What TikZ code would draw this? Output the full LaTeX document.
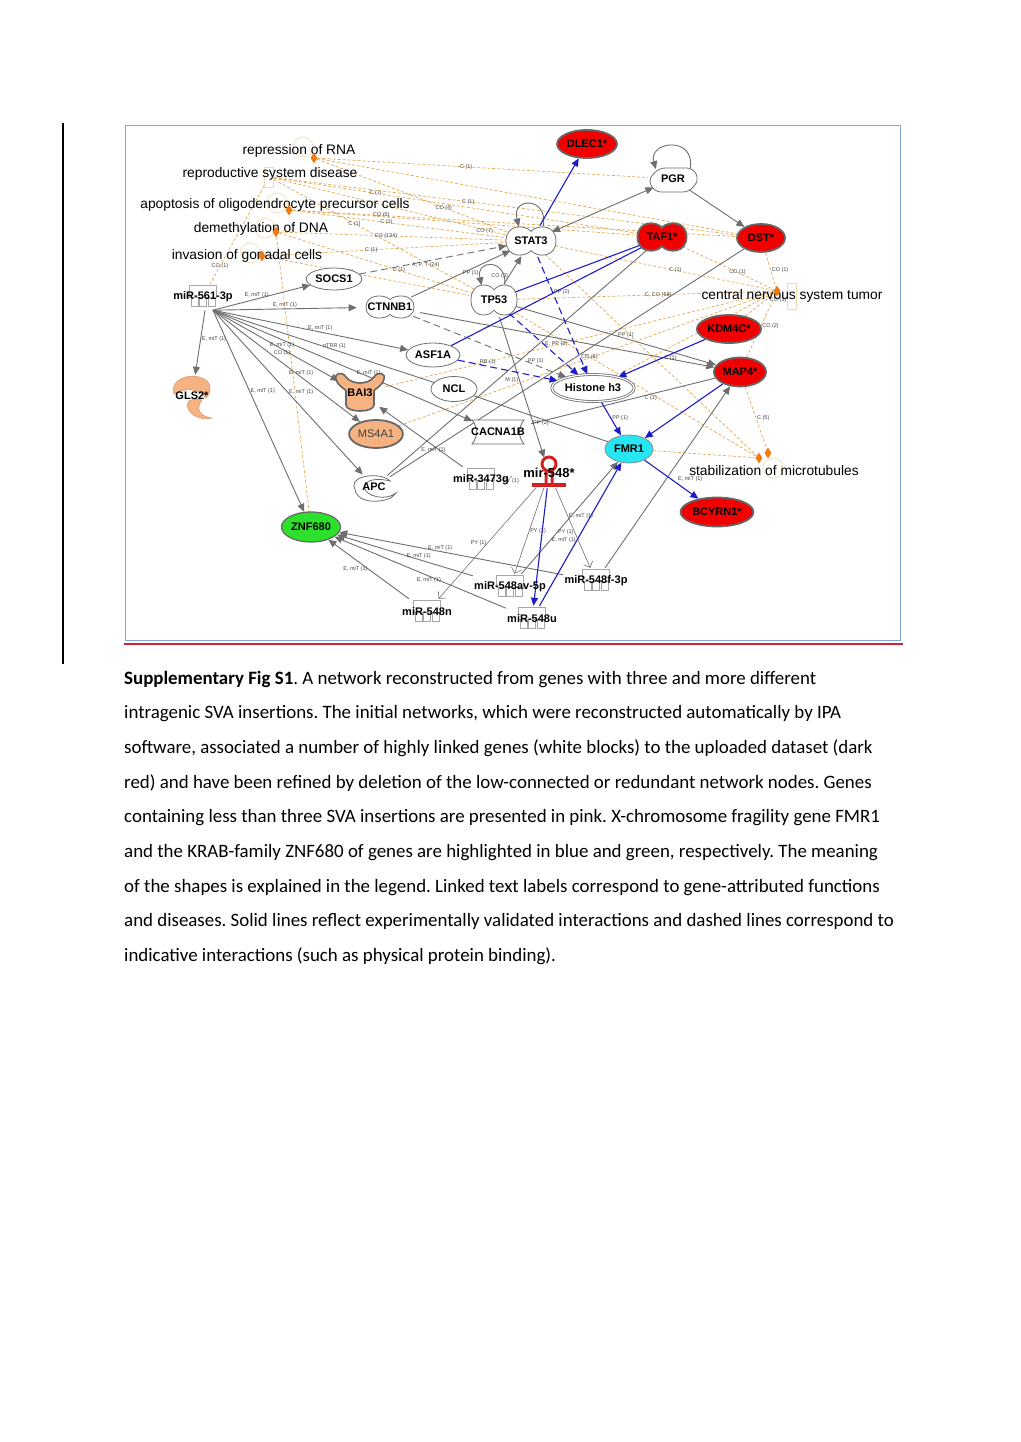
\documentclass[tikz,border=0pt]{standalone}
\usepackage{fontspec}
\setmainfont{Liberation Sans}
\newfontfamily\capfont{Carlito}
\usepackage{tikz}
\usetikzlibrary{arrows.meta,positioning,shapes.geometric,calc}
\pgfdeclarelayer{edges}
\pgfdeclarelayer{shapes}
\pgfsetlayers{edges,shapes,main}
\definecolor{framebl}{HTML}{7EA6DC}
\definecolor{capred}{HTML}{D2203C}
\definecolor{edgegr}{HTML}{6E6E6E}
\definecolor{bordgr}{HTML}{666666}
\definecolor{relbl}{HTML}{1C1CCB}
\definecolor{fnor}{HTML}{E3A84E}
\definecolor{mkor}{HTML}{EE7A10}
\definecolor{dsred}{HTML}{F20000}
\definecolor{pinkor}{HTML}{F7B282}
\definecolor{fmrcy}{HTML}{27E6F2}
\definecolor{znfgr}{HTML}{2CE02C}
\definecolor{hpred}{HTML}{D42020}
\tikzset{
  gene/.style={ellipse, draw=edgegr, line width=0.8pt, fill=white, inner sep=1pt,
    font=\fontsize{11}{12}\selectfont\bfseries, minimum width=44pt, minimum height=24pt},
  dsgene/.style={gene, fill=dsred, draw=bordgr, line width=1.8pt},
  pkgene/.style={gene, fill=pinkor, draw=bordgr, line width=1.8pt},
  hidgene/.style={gene, draw=none, fill=none},
  mirna/.style={font=\fontsize{11}{12}\selectfont\bfseries, inner sep=1pt,
    minimum width=28pt, minimum height=26pt},
  fnlabel/.style={font=\fontsize{13.8}{15}\selectfont, inner sep=1pt},
  fnmark/.style={diamond, fill=mkor, inner sep=0pt, minimum width=7pt, minimum height=11pt},
  fnghost/.style={circle, draw=fnor!35, line width=0.8pt, minimum size=20pt, inner sep=0pt},
  fnbox/.style={rectangle, draw=fnor!45, line width=0.8pt, minimum width=9pt,
    minimum height=20pt, inner sep=0pt},
  elab/.style={font=\fontsize{5.5}{6}\selectfont, text=black!75, inner sep=0.8pt},
  rel/.style={draw=edgegr, line width=0.9pt, -{Triangle[length=8pt,width=7pt]}},
  relboth/.style={rel, {Triangle[length=8pt,width=7pt]}-{Triangle[length=8pt,width=7pt]}},
  lnk/.style={draw=edgegr, line width=0.9pt},
  reld/.style={rel, dash pattern=on 7pt off 4pt},
  thinrel/.style={draw=edgegr, line width=0.6pt, -{Straight Barb[length=5pt]}},
  brel/.style={draw=relbl, line width=1.1pt, -{Triangle[length=8pt,width=7pt]}},
  blnk/.style={draw=relbl, line width=1.1pt},
  breld/.style={brel, dash pattern=on 7pt off 4pt},
  fnl/.style={draw=fnor, line width=0.7pt, dash pattern=on 3pt off 2pt},
  wshape/.style={draw=edgegr, line width=0.8pt, fill=white},
  rshape/.style={draw=bordgr, line width=1.8pt, fill=dsred},
  pshape/.style={draw=bordgr, line width=1.6pt, fill=pinkor},
  mirshape/.style={draw=black!35, line width=0.6pt, fill=white},
  hairpin/.style={draw=hpred, line width=3pt},
  captxt/.style={font=\capfont\fontsize{18.9}{22}\selectfont, inner sep=0pt, anchor=base west},
}
% peanut outline round a hidden node: node, half width, half height, style
\newcommand{\peanutshape}[4]{%
  \path[#4, shift={(#1.center)}] (0,{-0.6*#3})
    .. controls ({-0.25*#2},{-1.05*#3}) and ({-#2},{-1.05*#3}) .. ({-#2},0)
    .. controls ({-#2},{1.05*#3}) and ({-0.25*#2},{1.05*#3}) .. (0,{0.6*#3})
    .. controls ({0.25*#2},{1.05*#3}) and ({#2},{1.05*#3}) .. ({#2},0)
    .. controls ({#2},{-1.05*#3}) and ({0.25*#2},{-1.05*#3}) .. (0,{-0.6*#3}) -- cycle;}
% microRNA box with three feet
\newcommand{\mirbox}[1]{%
  \path[mirshape, shift={(#1.center)}] (-13.5,-12) rectangle (13.5,0)
    (-12,0) rectangle (-5,9) (-3.5,0) rectangle (3.5,9) (5,0) rectangle (12,9);}
\frenchspacing

\begin{document}
\begin{tikzpicture}[x=1pt, y=-1pt]
\useasboundingbox (0,0) rectangle (1020,1442);

% frame and rules
\node[draw=framebl, line width=0.9pt, minimum width=775pt, minimum height=515pt,
  inner sep=0pt, anchor=north west] (frame) at (125,125) {};
\draw[capred, line width=1.4pt] (124,644) -- (903,644);
\draw[black, line width=1.2pt] (63,123) -- (63,664);

% functions
\node[fnghost] (ggrna) at (303,147) {};
\node[fnbox] (mkrep) at (269,177) {};
\node[fnghost] (ggapo) at (277,203) {};
\node[fnghost] (ggdna) at (265,228) {};
\node[fnghost] (gggon) at (250,253) {};
\node[fnbox, minimum height=26pt] (ggcns) at (792,296) {};
\node[fnghost] (ggmt) at (773,468) {};
\node[fnlabel] (fnrna) at (299,151) {repression of RNA};
\node[fnlabel] (fnrep) at (270,174) {reproductive system disease};
\node[fnlabel] (fnapo) at (275,205) {apoptosis of oligodendrocyte precursor cells};
\node[fnlabel] (fndna) at (261,229) {demethylation of DNA};
\node[fnlabel] (fngon) at (247,256) {invasion of gonadal cells};
\node[fnlabel] (fncns) at (792,296) {central nervous system tumor};
\node[fnlabel] (fnmt) at (774,471) {stabilization of microtubules};
\node[fnmark] (mkrna) at (314,158) {};
\node[fnmark] (mkapo) at (289,210) {};
\node[fnmark] (mkdna) at (276,232) {};
\node[fnmark] (mkgon) at (262,256) {};
\node[fnmark] (mkcns) at (777,291) {};
\node[fnmark] (mkmt) at (759,458) {};
\node[fnmark] (mkmtb) at (768,453) {};

% genes
\node[dsgene, minimum width=53pt, minimum height=28pt] (dlec1) at (587,144) {DLEC1*};
\node[hidgene, minimum width=50pt, minimum height=26pt] (pgr) at (673,179) {PGR};
\node[hidgene, minimum width=50pt, minimum height=32pt] (stat3) at (531,241) {STAT3};
\node[hidgene, minimum width=50pt, minimum height=32pt] (taf1) at (662,237) {TAF1*};
\node[dsgene, minimum width=48pt, minimum height=28pt] (dst) at (761,238) {DST*};
\node[gene, minimum width=44pt, minimum height=22pt] (socs1) at (334,279) {SOCS1};
\node[mirna] (mir561) at (203,297) {miR-561-3p};
\node[hidgene, minimum width=48pt, minimum height=25pt] (ctnnb1) at (390,307) {CTNNB1};
\node[hidgene, minimum width=46pt, minimum height=34pt] (tp53) at (494,300) {TP53};
\node[dsgene, minimum width=48pt, minimum height=28pt] (kdm4c) at (729,329) {KDM4C*};
\node[gene] (asf1a) at (433,355) {ASF1A};
\node[dsgene, minimum width=49pt, minimum height=29pt] (map4) at (740,372) {MAP4*};
\node[gene, minimum width=46pt, minimum height=25pt] (ncl) at (454,389) {NCL};
\node[gene, double, double distance=1.2pt, minimum width=58pt, minimum height=27pt] (h3) at (593,388) {Histone h3};
\node[hidgene, minimum width=40pt, minimum height=42pt] (gls2) at (192,396) {GLS2*};
\node[hidgene, minimum width=54pt, minimum height=38pt] (bai3) at (360,393) {BAI3};
\node[pkgene, minimum width=43pt, minimum height=28pt, font=\fontsize{11}{12}\selectfont,
  text=black!75] (ms4a1) at (376,434) {MS4A1};
\node[hidgene, minimum width=54pt, minimum height=28pt] (cacna1b) at (498,432) {CACNA1B};
\node[gene, fill=fmrcy, draw=edgegr!80, minimum width=48pt, minimum height=28pt] (fmr1) at (629,449) {FMR1};
\node[hidgene, font=\fontsize{13}{15}\selectfont\bfseries, minimum width=40pt, minimum height=30pt] (mir548) at (549,473) {mir-548*};
\node[mirna] (mir3473) at (481,480) {miR-3473g};
\node[hidgene, minimum width=44pt, minimum height=28pt] (apc) at (374,487) {APC};
\node[dsgene, minimum width=60pt, minimum height=29pt] (bcyrn1) at (717,512) {BCYRN1*};
\node[gene, fill=znfgr, draw=bordgr, line width=1.2pt, minimum width=53pt, minimum height=30pt] (znf680) at (311,527) {ZNF680};
\node[mirna] (mir548av) at (510,587) {miR-548av-5p};
\node[mirna] (mir548f) at (596,581) {miR-548f-3p};
\node[mirna] (mir548n) at (427,612) {miR-548n};
\node[mirna] (mir548u) at (532,619) {miR-548u};

% outlines of the drawn shapes
\begin{pgfonlayer}{shapes}
  \peanutshape{stat3}{25}{16}{wshape}
  \peanutshape{tp53}{23}{17}{wshape}
  \peanutshape{ctnnb1}{24}{12.5}{wshape}
  \peanutshape{taf1}{24.5}{15.5}{rshape}
  \path[wshape, shift={(pgr.center)}, rounded corners=6pt]
    (-14,-11) -- (20,-11) -- (26,1) -- (16,13) -- (-18,13) -- (-25,1) -- cycle;
  \path[pshape, draw=pinkor!85!black, line width=0.5pt, shift={(gls2.center)}]
    (-18,-2) .. controls (-24,-18) and (4,-26) .. (16,-14)
    .. controls (20,-8) and (18,-2) .. (14,2)
    .. controls (8,-6) and (-4,-10) .. (-18,-2) -- cycle
    (-4,6) .. controls (-8,16) and (8,26) .. (20,22)
    .. controls (6,20) and (4,12) .. (10,4)
    .. controls (4,2) and (-2,3) .. (-4,6) -- cycle;
  \path[pshape, shift={(bai3.center)}]
    (-24,-14) .. controls (-26,-20) and (-18,-22) .. (-14,-16)
    .. controls (-8,-8) and (8,-8) .. (14,-16)
    .. controls (18,-22) and (26,-20) .. (24,-14)
    .. controls (22,-6) and (14,-4) .. (14,-2) -- (14,12)
    .. controls (14,20) and (-14,20) .. (-14,12) -- (-14,-2)
    .. controls (-14,-4) and (-22,-6) .. (-24,-14) -- cycle;
  \path[wshape, shift={(cacna1b.center)}]
    (-26,-12) -- (26,-12) .. controls (20,-5) and (20,5) .. (26,12)
    -- (-26,12) .. controls (-20,5) and (-20,-5) .. (-26,-12) -- cycle;
  \path[wshape, shift={(apc.center)}]
    (-20,-1) .. controls (-22,-12) and (8,-15) .. (16,-6)
    .. controls (4,-9) and (-8,-8) .. (-10,0)
    .. controls (-8,10) and (12,14) .. (22,6)
    .. controls (16,16) and (-12,18) .. (-18,6) -- cycle;
  \draw[hairpin, shift={(mir548.center)}] (0,-9) circle (7pt)
    (-3,-3) -- (-3,12) (3,-3) -- (3,12);
  \draw[hairpin, line width=4pt, shift={(mir548.center)}] (-17,12) -- (17,12);
  \mirbox{mir561}
  \mirbox{mir3473}
  \mirbox{mir548av}
  \mirbox{mir548f}
  \mirbox{mir548n}
  \mirbox{mir548u}
\end{pgfonlayer}

\begin{pgfonlayer}{edges}
  % links to functions and diseases
  \draw[fnl] (mkrna) -- node[elab, pos=.45] {C (1)} (pgr);
  \draw[fnl] (mkrna) -- node[elab, pos=.66] {CO (4)} (stat3);
  \draw[fnl] (mkrna) -- (dst);
  \draw[fnl] (mkrep) -- node[elab, pos=.28] {C (7)} (taf1);
  \draw[fnl] (mkrep) -- node[elab, pos=.42] {C (1)} (dst);
  \draw[fnl] (mkrep) -- node[elab, pos=.4] {C (1)} (tp53);
  \draw[fnl] (mkrep) -- (stat3);
  \draw[fnl] (mkrep) -- node[elab, pos=.82] {CO (1)} (mir561);
  \draw[fnl] (mkapo) -- node[elab, pos=.2] {CO (5)} (dst);
  \draw[fnl] (mkapo) -- node[elab, pos=.44] {C (1)} node[elab, pos=.9, above] {CO (7)} (stat3);
  \draw[fnl] (mkapo) -- (taf1);
  \draw[fnl] (mkdna) -- node[elab, pos=.47] {CO (134)} (stat3);
  \draw[fnl] (mkdna) -- node[elab, pos=.62] {C (1)} (tp53);
  \draw[fnl] (mkdna) -- (znf680);
  \draw[fnl] (mkgon) -- node[elab, pos=.44] {C (1)} (stat3);
  \draw[fnl] (mkgon) -- node[elab, pos=.4] {C (1)} (tp53);
  \draw[fnl] (stat3) -- node[elab, pos=.55] {C (1)} (mkcns);
  \draw[fnl] (tp53) -- node[elab, pos=.55] {C, CO (58)} (mkcns);
  \draw[fnl] (taf1) -- node[elab, pos=.6] {CO (1)} (mkcns);
  \draw[fnl] (dst) -- node[elab, pos=.5, right] {CO (1)} (mkcns);
  \draw[fnl] (kdm4c) -- node[elab, pos=.7, right=3pt] {CO (1)} (mkcns);
  \draw[fnl] (map4) -- node[elab, pos=.5, right] {CO (2)} (mkcns);
  \draw[fnl] (bai3) -- (mkcns);
  \draw[fnl] (ms4a1) -- (mkcns);
  \draw[fnl] (h3) -- (mkcns);
  \draw[fnl] (map4) -- node[elab, pos=.5, right] {C (5)} (mkmtb);
  \draw[fnl] (fmr1) -- (mkmt);
  \draw[fnl] (stat3) -- (mkmt);
  \draw[fnl] (tp53) -- (mkmt);
  % miR-561-3p targets
  \draw[rel] ([xshift=10pt]mir561.south) -- node[elab, pos=.45, above] {E, miT (1)} (socs1);
  \draw[rel] ([xshift=10pt]mir561.south) -- node[elab, pos=.5, above] {E, miT (1)} (ctnnb1);
  \draw[rel] ([xshift=10pt]mir561.south) -- node[elab, pos=.55, above] {E, miT (1)} (asf1a);
  \draw[lnk] ([xshift=10pt]mir561.south) -- node[elab, pos=.55, above] {nTRR (1)} (ncl);
  \draw[rel] ([xshift=10pt]mir561.south) -- node[elab, pos=.6, above] {E, miT (1)} (cacna1b);
  \draw[rel] ([xshift=10pt]mir561.south) -- node[elab, pos=.55, above] {E, miT (1)} node[elab, pos=.55, below] {CO (1)} (bai3);
  \draw[rel] ([xshift=10pt]mir561.south) -- node[elab, pos=.6, above] {E, miT (1)} (ms4a1);
  \draw[rel] ([xshift=10pt]mir561.south) -- node[elab, pos=.5, right] {E, miT (1)} (apc);
  \draw[rel] ([xshift=10pt]mir561.south) -- node[elab, pos=.4, right] {E, miT (1)} (znf680);
  \draw[rel] ([xshift=2pt]mir561.south) -- node[elab, pos=.45, right] {E, miT (1)} (gls2);
  % gene to gene
  \draw[reld] (socs1) -- node[elab, pos=.45, below] {A, P, T (24)} (stat3);
  \draw[rel] (ctnnb1) -- node[elab, pos=.6, below] {PP (1)} (stat3);
  \draw[rel] (ctnnb1) -- (map4);
  \draw[reld] (ctnnb1) -- node[elab, pos=.8, above] {PP (1)} (h3);
  \draw[rel] (tp53) -- node[elab, pos=.3, left] {CO (3)} (stat3);
  \draw[rel] (tp53.55) .. controls +(2,-26) and +(-6,-26) .. (tp53.130);
  \draw[rel] (stat3.50) .. controls +(6,-30) and +(-8,-30) .. (stat3.130);
  \draw[rel] (tp53) -- node[elab, pos=.55, above] {PP (1)} (map4);
  \draw[rel] (tp53) -- node[elab, pos=.45, left] {M (1)} (mir548);
  \draw[relboth] (stat3) -- (pgr);
  \draw[rel] (pgr) -- (dst);
  \draw[rel] (pgr.30) .. controls +(6,-34) and +(-8,-28) .. (pgr.150);
  \draw[lnk] (taf1) -- (apc);
  \draw[lnk] (dst) -- (apc);
  \draw[lnk] (cacna1b) -- node[elab, pos=.65, below] {C (1)} (map4);
  \draw[lnk] (ncl) -- node[elab, pos=.5, below] {PP (2)} (fmr1);
  \draw[rel] (mir3473) -- node[elab, pos=.35, below] {E, miT (1)} (bai3);
  \draw[lnk] (mir3473) -- node[elab, pos=.5, below] {PY (1)} (mir548);
  \draw[thinrel] (mir548) -- node[elab, pos=.5, left] {PY (1)} (mir548n);
  \draw[thinrel] (mir548) -- node[elab, pos=.5, right] {PY (1)} (mir548av);
  \draw[thinrel] (mir548) -- node[elab, pos=.55, left] {PY (1)} node[elab, pos=.35, right] {E, miT (1)} (mir548f);
  \draw[rel] (mir548av) -- node[elab, pos=.3, right] {E, miT (1)} (fmr1);
  \draw[rel] (mir548f) -- (map4);
  \draw[rel] (mir548n) -- node[elab, pos=.5, left] {E, miT (1)} (znf680);
  \draw[rel] (mir548u) -- node[elab, pos=.45, below] {E, miT (1)} (znf680);
  \draw[rel] (mir548av) -- node[elab, pos=.4, above] {E, miT (1)} (znf680);
  \draw[rel] (mir548f) -- node[elab, pos=.55, above] {E, miT (1)} (znf680);
  % blue relations
  \draw[brel] (stat3) -- (dlec1);
  \draw[blnk] (taf1) -- (tp53);
  \draw[blnk] (taf1) -- (asf1a);
  \draw[breld] (stat3) -- node[elab, pos=.3, right] {PP (2)} node[elab, pos=.85, right] {CO (6)} (h3);
  \draw[breld] (tp53) -- node[elab, pos=.5, right] {E, PP (3)} (h3);
  \draw[breld] (asf1a) -- node[elab, pos=.3, above] {RB (1)} (h3);
  \draw[brel] (kdm4c) -- node[elab, pos=.4, below] {C (1)} (h3);
  \draw[brel] (h3) -- node[elab, pos=.5, right] {PP (1)} (fmr1);
  \draw[brel] (map4) -- (fmr1);
  \draw[brel] (fmr1) -- node[elab, pos=.6, above right] {E, miT (1)} (bcyrn1);
  \draw[brel] (mir548) -- (mir548u);
  \draw[brel] (mir548u) -- (fmr1);
\end{pgfonlayer}

% caption
\foreach \capline [count=\i] in {
  {\textbf{Supplementary Fig S1}. A network reconstructed from genes with three and more different},
  {intragenic SVA insertions. The initial networks, which were reconstructed automatically by IPA},
  {software, associated a number of highly linked genes (white blocks) to the uploaded dataset (dark},
  {red) and have been refined by deletion of the low-connected or redundant network nodes. Genes},
  {containing less than three SVA insertions are presented in pink. X-chromosome fragility gene FMR1},
  {and the KRAB-family ZNF680 of genes are highlighted in blue and green, respectively. The meaning},
  {of the shapes is explained in the legend. Linked text labels correspond to gene-attributed functions},
  {and diseases. Solid lines reflect experimentally validated interactions and dashed lines correspond to},
  {indicative interactions (such as physical protein binding).}}
  \node[captxt] (cap\i) at (124,{684+34.7*(\i-1)}) {\capline};
\end{tikzpicture}
\end{document}
